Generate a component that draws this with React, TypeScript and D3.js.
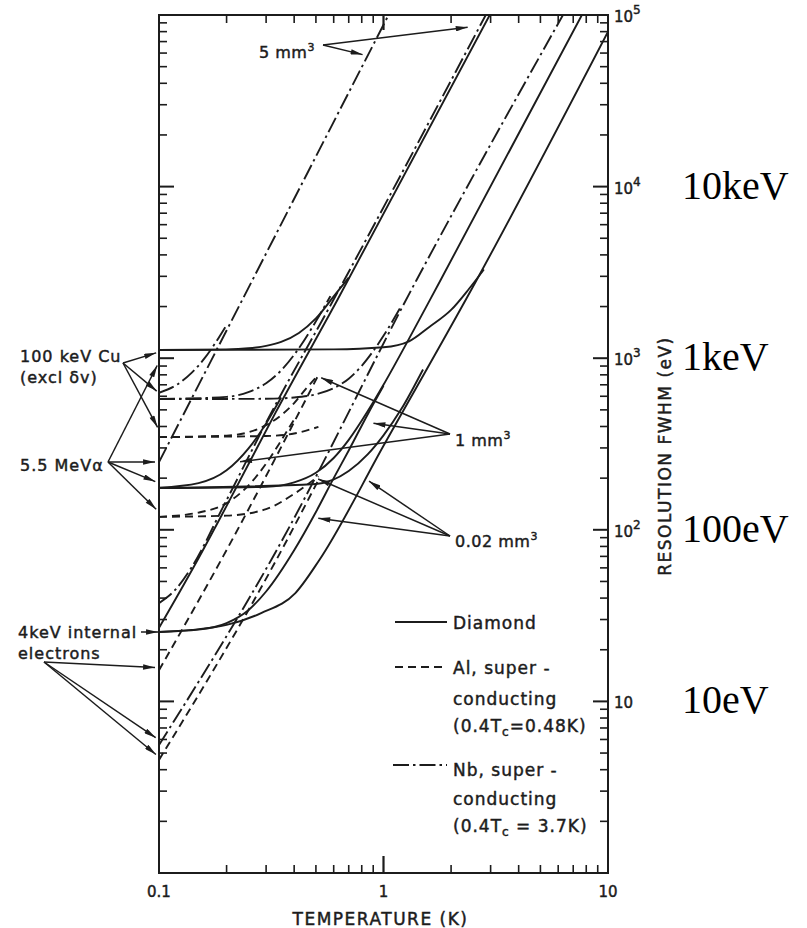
import React from "react";
import * as d3 from "d3";

type P = [number, number];

// ---------- axis / label data ----------
const xTickValues = [0.1, 1, 10];
const xTickLabels = ["0.1", "1", "10"];
const yTickValues = [10, 100, 1000, 10000, 100000];
const yTickExps = ["", "2", "3", "4", "5"];
const energyNotes = ["10keV", "1keV", "100eV", "10eV"];
const energyNoteValues = [1e4, 1e3, 1e2, 10];

// ---------- curve data (T in K, FWHM in eV) ----------
// Nb (dash-dot)
const nb5Line: P[] = [[0.1, 248], [1.053, 1e5]];
const nb1Line: P[] = [[0.1, 37.4], [0.118, 44.6], [0.14, 60.7], [0.193, 136], [0.316, 480], [0.598, 2183], [2.854, 1e5]];
const nb02Line: P[] = [[0.1, 5.57], [0.316, 66.7], [1.404, 2857], [6.3, 1e5]];
const cuNb5: P[] = [[0.1, 629], [0.12, 700], [0.14, 824], [0.16, 1004], [0.18, 1252], [0.2, 1563]];
const cuNb1: P[] = [[0.1, 578], [0.2, 595], [0.25, 635], [0.3, 714], [0.35, 849], [0.4, 1047], [0.5, 1640], [0.58, 2300]];
const cuNb02: P[] = [[0.1, 578], [0.3, 580], [0.4, 590], [0.5, 616], [0.6, 669], [0.7, 760], [0.8, 903], [0.9, 1100], [1.0, 1350], [1.2, 2013]];
// Diamond (solid)
const d5Line: P[] = [[0.1, 26.8], [0.146, 64], [0.199, 136], [0.33, 480], [0.623, 2183], [2.973, 1e5]];
const d1Line: P[] = [[0.1, 175], [0.3, 178], [0.4, 189], [0.5, 215], [0.6, 262], [0.7, 334], [0.85, 490], [1.0, 700], [1.3, 1300], [1.797, 2857], [7.65, 1e5]];
const d02Line: P[] = [[0.1, 25.4], [0.14, 26.1], [0.2, 27.9], [0.285, 32.7], [0.405, 42.8], [0.518, 66.7], [1.0, 309], [2.6, 2857], [10, 80000]];
const cuD5: P[] = [[0.1, 1116], [0.2, 1125], [0.25, 1142], [0.3, 1179], [0.35, 1245], [0.42, 1404], [0.5, 1706], [0.6, 2290], [0.7, 2950]];
const cuD02: P[] = [[0.1, 1116], [0.6, 1125], [1.0, 1158], [1.3, 1254], [1.6, 1521], [2.0, 1911], [2.4, 2530], [2.8, 3290]];
const eD1: P[] = [[0.1, 25.4], [0.15, 26.2], [0.2, 28.6], [0.25, 34], [0.3, 43.7], [0.4, 76], [0.5, 127], [0.6, 200], [0.7, 290], [0.85, 470], [1.0, 690]];
const alphaD5: P[] = [[0.1, 176], [0.15, 187], [0.2, 222], [0.25, 297], [0.3, 417], [0.35, 590]];
const alphaD02: P[] = [[0.1, 175], [0.5, 185], [0.7, 220], [0.85, 275], [1.0, 355], [1.2, 505], [1.5, 860]];
// Al (dashed), ends at 0.4 Tc
const al1Line: P[] = [[0.1, 15.2], [0.193, 70], [0.513, 798]];
const al02Line: P[] = [[0.1, 4.56], [0.333, 66.7], [0.513, 195]];
const cuAl1: P[] = [[0.1, 347], [0.2, 354], [0.25, 370], [0.3, 407], [0.35, 465], [0.4, 548], [0.45, 660], [0.513, 800]];
const cuAl02: P[] = [[0.1, 347], [0.3, 352], [0.4, 364], [0.513, 398]];
const alphaAl1: P[] = [[0.1, 119], [0.15, 126], [0.2, 143], [0.25, 181], [0.3, 243], [0.35, 331], [0.4, 440]];
const alphaAl02: P[] = [[0.1, 119], [0.2, 121], [0.3, 132], [0.4, 162], [0.513, 205]];

const curves: { pts: P[]; s: "solid" | "dash" | "dd" }[] = [
  { pts: nb5Line, s: "dd" }, { pts: nb1Line, s: "dd" }, { pts: nb02Line, s: "dd" },
  { pts: cuNb5, s: "dd" }, { pts: cuNb1, s: "dd" }, { pts: cuNb02, s: "dd" },
  { pts: d5Line, s: "solid" }, { pts: d1Line, s: "solid" }, { pts: d02Line, s: "solid" },
  { pts: cuD5, s: "solid" }, { pts: cuD02, s: "solid" }, { pts: eD1, s: "solid" },
  { pts: alphaD5, s: "solid" }, { pts: alphaD02, s: "solid" },
  { pts: al1Line, s: "dash" }, { pts: al02Line, s: "dash" }, { pts: cuAl1, s: "dash" },
  { pts: cuAl02, s: "dash" }, { pts: alphaAl1, s: "dash" }, { pts: alphaAl02, s: "dash" },
];

// annotation arrow targets (T, E)
const mm5Targets: P[] = [[2.42, 85100], [0.823, 58400]];
const mm1Targets: P[] = [[0.518, 777], [0.884, 419], [0.225, 248]];
const mm002Targets: P[] = [[0.502, 200], [0.848, 195], [0.502, 117]];
const cuTargets: P[] = [[0.1, 1087], [0.1, 627], [0.1, 382]];
const alphaTargets: P[] = [[0.1, 951], [0.1, 248], [0.1, 187], [0.1, 127]];
const eInternalTargets: P[] = [[0.1, 25.4]];
const eElectronTargets: P[] = [[0.1, 15.7], [0.1, 5.96], [0.1, 4.74]];

// ---------- layout ----------
const W = 807, H = 928;
const PL = 159, PR = 608, PT = 15, PB = 873;
const x = d3.scaleLog().domain([0.1, 10]).range([PL, PR]);
const y = d3.scaleLog().domain([1, 1e5]).range([PB, PT]);
const lineGen = d3.line<P>().x(d => x(d[0])).y(d => y(d[1])).curve(d3.curveMonotoneX);

const INK = "#1c1c1c";
const dashes: Record<string, string | undefined> = { solid: undefined, dash: "8,5", dd: "16,4,2.5,4" };
const FONT = "'DejaVu Sans', sans-serif";

const xMinor: number[] = [];
[0.1, 1].forEach(d => { for (let k = 2; k <= 9; k++) xMinor.push(k * d); });
const yMinor: number[] = [];
[1, 10, 100, 1000, 10000].forEach(d => { for (let k = 2; k <= 9; k++) yMinor.push(k * d); });

function Arrow({ from, to, back = 2 }: { from: [number, number]; to: P; back?: number }) {
  const tx = x(to[0]), ty = y(to[1]);
  const dx = tx - from[0], dy = ty - from[1];
  const len = Math.hypot(dx, dy);
  const ex = tx - (dx / len) * back, ey = ty - (dy / len) * back;
  return <line x1={from[0]} y1={from[1]} x2={ex} y2={ey} stroke={INK} strokeWidth={1.5} markerEnd="url(#ah)" />;
}

const textStroke = { stroke: INK, strokeWidth: 0.45 };

export default function App() {
  const major = 15, minor = 8;
  return (
    <svg width={W} height={H} style={{ position: "absolute", left: 0, top: 0, background: "#fff" }} fontFamily={FONT}>
      <defs>
        <clipPath id="plot"><rect x={PL} y={PT} width={PR - PL} height={PB - PT} /></clipPath>
        <marker id="ah" viewBox="0 0 13 6" refX={13} refY={3} markerWidth={13} markerHeight={5.5} orient="auto" markerUnits="userSpaceOnUse">
          <path d="M0,0 L13,3 L0,6 Z" fill={INK} />
        </marker>
      </defs>
      <rect x={0} y={0} width={W} height={H} fill="#fff" />

      {/* frame */}
      <rect x={PL} y={PT} width={PR - PL} height={PB - PT} fill="none" stroke={INK} strokeWidth={2} />

      {/* x ticks top & bottom */}
      {xMinor.map((v, i) => (
        <g key={"xm" + i}>
          <line x1={x(v)} x2={x(v)} y1={PB} y2={PB - minor} stroke={INK} strokeWidth={1.6} />
          <line x1={x(v)} x2={x(v)} y1={PT} y2={PT + minor} stroke={INK} strokeWidth={1.6} />
        </g>
      ))}
      <line x1={x(1)} x2={x(1)} y1={PB} y2={PB - major - 2} stroke={INK} strokeWidth={2.2} />
      <line x1={x(1)} x2={x(1)} y1={PT} y2={PT + major} stroke={INK} strokeWidth={2.2} />

      {/* y ticks left & right */}
      {yMinor.map((v, i) => (
        <g key={"ym" + i}>
          <line x1={PL} x2={PL + minor} y1={y(v)} y2={y(v)} stroke={INK} strokeWidth={1.6} />
          <line x1={PR} x2={PR - minor} y1={y(v)} y2={y(v)} stroke={INK} strokeWidth={1.6} />
        </g>
      ))}
      {yTickValues.map((v, i) => (
        <g key={"yM" + i}>
          <line x1={PL} x2={PL + major} y1={y(v)} y2={y(v)} stroke={INK} strokeWidth={2} />
          <line x1={PR} x2={PR - major} y1={y(v)} y2={y(v)} stroke={INK} strokeWidth={2} />
        </g>
      ))}

      {/* x tick labels */}
      <g fill={INK} {...textStroke}>
        {xTickValues.map((v, i) => (
          <text key={"xl" + i} x={x(v)} y={PB + 24} fontSize={15} textAnchor="middle">{xTickLabels[i]}</text>
        ))}
        <text x={x(1) - 3} y={PB + 52} fontSize={17} letterSpacing={1.5} textAnchor="middle">TEMPERATURE (K)</text>

        {/* y tick labels on the right */}
        {yTickValues.map((v, i) => (
          <text key={"yl" + i} x={PR + 6} y={y(v) + 7} fontSize={15}>
            10{yTickExps[i] ? <tspan dy={-8} fontSize={12}>{yTickExps[i]}</tspan> : null}
          </text>
        ))}
        <text transform={`translate(${PR + 63},${456}) rotate(-90)`} fontSize={17} letterSpacing={1.5} textAnchor="middle">RESOLUTION FWHM (eV)</text>
      </g>

      {/* energy notes */}
      {energyNotes.map((t, i) => (
        <text key={"en" + i} x={682} y={y(energyNoteValues[i]) + 12} fontSize={40} fontFamily="'Liberation Serif', 'Times New Roman', serif" fill="#000">{t}</text>
      ))}

      {/* curves */}
      <g clipPath="url(#plot)" fill="none" stroke={INK} strokeWidth={1.9}>
        {curves.map((c, i) => (
          <path key={"c" + i} d={lineGen(c.pts) || ""} strokeDasharray={dashes[c.s]} />
        ))}
      </g>

      {/* legend */}
      <g fontSize={17} letterSpacing={1} fill={INK} {...textStroke}>
        <line x1={395} x2={447} y1={622} y2={622} stroke={INK} strokeWidth={1.9} />
        <text x={453} y={629}>Diamond</text>
        <line x1={395} x2={447} y1={667} y2={667} stroke={INK} strokeWidth={1.9} strokeDasharray="8,5" />
        <text x={453} y={674}>Al, super -</text>
        <text x={453} y={705}>conducting</text>
        <text x={453} y={732}>(0.4T<tspan dy={4} fontSize={12}>c</tspan><tspan dy={-4}>=0.48K)</tspan></text>
        <line x1={393} x2={447} y1={765} y2={765} stroke={INK} strokeWidth={1.9} strokeDasharray="16,4,2.5,4" />
        <text x={453} y={776}>Nb, super -</text>
        <text x={453} y={805}>conducting</text>
        <text x={453} y={832}>(0.4T<tspan dy={4} fontSize={12}>c</tspan><tspan dy={-4}> = 3.7K)</tspan></text>
      </g>

      {/* volume annotations */}
      <g fontSize={16} fill={INK} letterSpacing={0.5} {...textStroke}>
        <text x={259} y={58}>5 mm<tspan dy={-7} fontSize={11}>3</tspan></text>
        <text x={455} y={446}>1 mm<tspan dy={-7} fontSize={11}>3</tspan></text>
        <text x={455} y={547}>0.02 mm<tspan dy={-7} fontSize={11}>3</tspan></text>
      </g>
      {mm5Targets.map((t, i) => <Arrow key={"a5" + i} from={[323, 45]} to={t} />)}
      {mm1Targets.map((t, i) => <Arrow key={"a1" + i} from={[450, 434]} to={t} />)}
      {mm002Targets.map((t, i) => <Arrow key={"a02" + i} from={[450, 536]} to={t} />)}

      {/* particle annotations */}
      <g fontSize={16} fill={INK} letterSpacing={1} {...textStroke}>
        <text x={20} y={362}>100 keV Cu</text>
        <text x={20} y={383}>(excl δv)</text>
        <text x={20} y={471}>5.5 MeVα</text>
        <text x={18} y={638}>4keV internal</text>
        <text x={18} y={659}>electrons</text>
      </g>
      {cuTargets.map((t, i) => <Arrow key={"cu" + i} from={[123, 363]} to={t} back={3} />)}
      {alphaTargets.map((t, i) => <Arrow key={"al" + i} from={[108, 462]} to={t} back={4} />)}
      {eInternalTargets.map((t, i) => <Arrow key={"ei" + i} from={[141, 632]} to={t} back={1} />)}
      {eElectronTargets.map((t, i) => <Arrow key={"ee" + i} from={[44, 662]} to={t} back={4} />)}
    </svg>
  );
}
